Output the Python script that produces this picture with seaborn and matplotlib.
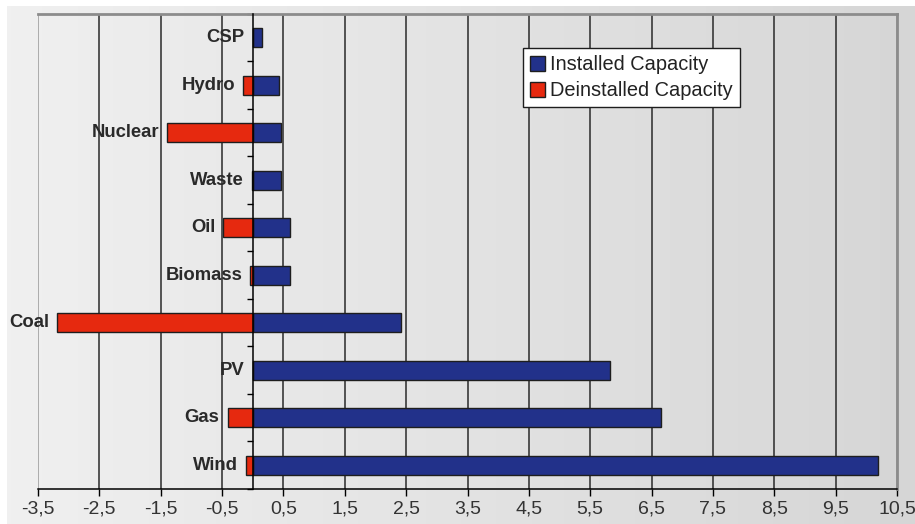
import numpy as np
import pandas as pd
import matplotlib
matplotlib.use("Agg")
import matplotlib.pyplot as plt
from matplotlib.ticker import FixedLocator, FuncFormatter
import seaborn as sns

# -----------------------------
# Data (GW)
# -----------------------------
categories = ["CSP", "Hydro", "Nuclear", "Waste", "Oil", "Biomass", "Coal", "PV", "Gas", "Wind"]
installed = [0.15, 0.42, 0.46, 0.46, 0.60, 0.60, 2.42, 5.82, 6.65, 10.19]
deinstalled = [0.0, -0.16, -1.39, -0.01, -0.48, -0.04, -3.19, 0.0, -0.41, -0.11]
series = ["Installed Capacity", "Deinstalled Capacity"]
colors = {"Installed Capacity": "#22318a", "Deinstalled Capacity": "#e6290f"}
x_ticks = np.arange(-3.5, 10.6, 1.0)

df = pd.DataFrame({
    "category": categories * 2,
    "value": installed + deinstalled,
    "series": [series[0]] * len(categories) + [series[1]] * len(categories),
})

# -----------------------------
# Style
# -----------------------------
sns.set_theme(style="white")
plt.rcParams["font.family"] = ["Liberation Sans", "DejaVu Sans"]

fig = plt.figure(figsize=(9.15, 5.24), dpi=100)
fig.patch.set_facecolor("white")

# gradient panel behind everything
bg = fig.add_axes([7 / 915, 0, 1 - 7 / 915, 1 - 6 / 524], zorder=0)
grad = np.linspace(0, 1, 256).reshape(1, -1)
bg.imshow(grad, aspect="auto", cmap=matplotlib.colors.LinearSegmentedColormap.from_list(
    "bg", ["#f0f0f0", "#d6d6d6"]), extent=[0, 1, 0, 1])
bg.axis("off")

ax = fig.add_axes([38 / 915, 1 - 489 / 524, 859 / 915, 475 / 524], zorder=1)
ax.patch.set_alpha(0)

sns.barplot(data=df, x="value", y="category", hue="series", order=categories,
            hue_order=series, palette=colors, dodge=False, width=0.4,
            saturation=1, edgecolor="#1e1e1e", linewidth=1, orient="h",
            ax=ax, zorder=3)

# -----------------------------
# Axes
# -----------------------------
ax.set_xlim(x_ticks[0], x_ticks[-1])
ax.set_ylim(len(categories) - 0.5, -0.5)
ax.set_xticks(x_ticks)
ax.xaxis.set_major_formatter(FuncFormatter(lambda v, p: f"{v:.1f}".replace(".", ",")))
ax.tick_params(axis="x", direction="out", length=5, width=1, color="black",
               labelsize=14, labelcolor="#333333", pad=3, bottom=True)
ax.set_xlabel("")
ax.set_ylabel("")

ax.grid(axis="x", color="#2a2a2a", linewidth=1.1, zorder=1)
ax.set_axisbelow(True)
gl = ax.xaxis.get_gridlines()
gl[0].set_color("#9a9a9a")
gl[-1].set_color("#9a9a9a")

# y axis sits on zero, ticks between categories
ax.spines["left"].set_position(("data", 0))
ax.spines["left"].set_color("black")
ax.spines["left"].set_linewidth(1.1)
ax.spines["left"].set_zorder(4)
ax.yaxis.set_major_locator(FixedLocator(range(len(categories))))
ax.set_yticklabels([])
ax.yaxis.set_minor_locator(FixedLocator(np.arange(-0.5, len(categories), 1.0)))
ax.tick_params(axis="y", which="major", length=0)
ax.tick_params(axis="y", which="minor", direction="out", length=4.5, width=1,
               color="black", left=True)

ax.spines["bottom"].set_color("black")
ax.spines["bottom"].set_linewidth(1.1)
for side in ["top", "right"]:
    ax.spines[side].set_color("#8c8c8c")
    ax.spines[side].set_linewidth(2)

# category labels left of the leftmost bar end
for i, cat in enumerate(categories):
    left = min(deinstalled[i], 0)
    ax.annotate(cat, xy=(left, i), xytext=(-8, 0), textcoords="offset pixels",
                ha="right", va="center", fontsize=13.3, fontweight="bold",
                color="#2a2a2a", zorder=5)

# -----------------------------
# Legend
# -----------------------------
handles, labels = ax.get_legend_handles_labels()
leg = ax.legend(handles, labels, loc="upper left", bbox_to_anchor=(0.5646, 0.928),
                borderaxespad=0, fontsize=14.4, frameon=True, fancybox=False,
                framealpha=1, edgecolor="#1e1e1e", handlelength=0.75,
                handleheight=0.75, handletextpad=0.25, borderpad=0.35,
                labelspacing=0.35)
leg.get_frame().set_linewidth(1)
for t in leg.get_texts():
    t.set_color("#222222")

fig.savefig("out.png", dpi=100)
